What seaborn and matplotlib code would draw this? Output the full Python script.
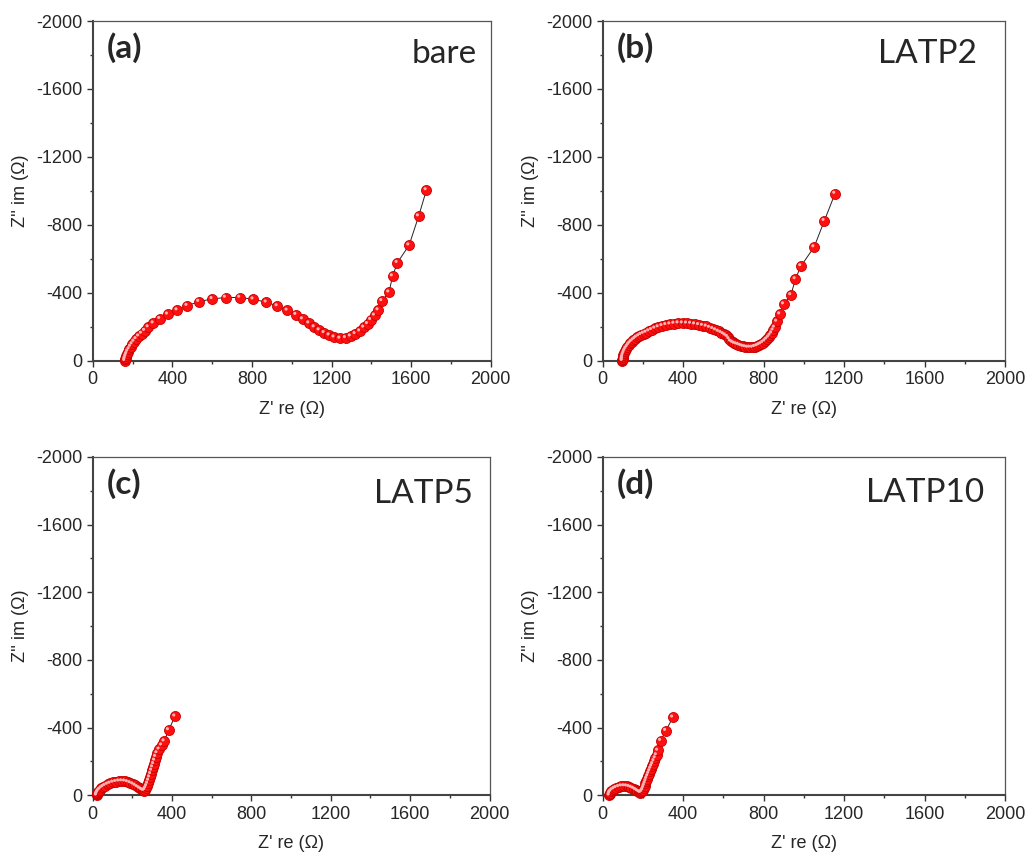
import numpy as np
import matplotlib
matplotlib.use("Agg")
import matplotlib.pyplot as plt
import matplotlib.transforms as mtransforms
import seaborn as sns
from matplotlib.ticker import MultipleLocator

# Nyquist data (Z' re, Z'' im in ohm)
bare_re = [162, 163, 165, 168, 172, 177, 184, 191, 199, 208, 219, 232, 246,
           262, 280, 305, 338, 377, 425, 475, 534, 601, 668, 740, 807, 873,
           928, 978, 1022, 1055, 1087, 1114, 1139, 1164, 1189, 1214, 1243,
           1271, 1296, 1320, 1343, 1363, 1382, 1398, 1417, 1435, 1454, 1489,
           1507, 1531, 1590, 1638, 1677]
bare_im = [0, -8, -16, -28, -40, -54, -68, -83, -98, -113, -128, -144, -160,
           -177, -198, -221, -247, -273, -298, -324, -348, -364, -372, -372,
           -362, -344, -322, -296, -271, -245, -221, -198, -180, -164, -150,
           -138, -131, -135, -144, -158, -174, -196, -217, -241, -267, -298,
           -352, -403, -498, -577, -680, -851, -1005]

latp2_re = [98, 98, 99, 100, 103, 107, 111, 117, 123, 129, 136, 144, 153, 161,
            169, 180, 191, 203, 216, 230, 244, 260, 277, 296, 315, 335, 355,
            376, 397, 418, 438, 458, 478, 497, 516, 532, 548, 562, 576, 589,
            601, 611, 621, 629, 637, 646, 654, 664, 675, 686, 697, 708, 720,
            732, 745, 756, 767, 777, 787, 797, 807, 816, 825, 833, 841, 848,
            855, 866, 881, 900, 936, 958, 986, 1051, 1102, 1155]
latp2_im = [0, -5, -12, -22, -35, -47, -59, -71, -82, -92, -102, -112, -121,
            -129, -137, -145, -153, -160, -166, -174, -182, -190, -198, -205,
            -211, -215, -219, -221, -221, -220, -219, -215, -211, -207, -202,
            -195, -188, -180, -172, -165, -157, -149, -141, -128, -114, -108,
            -102, -98, -94, -89, -84, -81, -78, -78, -78, -82, -86, -92, -98,
            -106, -115, -126, -137, -149, -162, -179, -196, -231, -274, -333,
            -387, -481, -558, -669, -824, -984]

latp5_re = [20, 21, 23, 26, 30, 36, 44, 53, 63, 75, 88, 102, 117, 132, 147,
            162, 176, 190, 203, 215, 226, 236, 245, 252, 259, 263, 268, 273,
            278, 283, 288, 293, 298, 303, 308, 313, 318, 325, 336, 348, 361,
            383, 415]
latp5_im = [0, -6, -12, -19, -26, -33, -42, -50, -57, -64, -70, -76, -80, -83,
            -84, -83, -79, -73, -66, -58, -49, -42, -35, -30, -28, -32, -42,
            -55, -70, -88, -107, -127, -147, -167, -186, -206, -228, -250,
            -272, -296, -320, -386, -467]

latp10_re = [33, 34, 37, 42, 49, 58, 68, 80, 93, 106, 119, 131, 143, 154, 164,
             173, 181, 187, 192, 196, 200, 204, 208, 212, 216, 220, 225, 230,
             235, 240, 245, 250, 256, 262, 268, 274, 289, 314, 349]
latp10_im = [0, -8, -16, -24, -32, -39, -45, -50, -54, -55, -54, -51, -46,
             -40, -33, -26, -20, -16, -18, -24, -32, -44, -57, -70, -84, -98,
             -113, -128, -143, -158, -172, -186, -203, -220, -238, -265, -323,
             -382, -461]

panel_tags = ["(a)", "(b)", "(c)", "(d)"]
sample_names = ["bare", "LATP2", "LATP5", "LATP10"]
series = [(bare_re, bare_im), (latp2_re, latp2_im),
          (latp5_re, latp5_im), (latp10_re, latp10_im)]

sns.set_style("ticks")
plt.rcParams["font.family"] = ["Liberation Sans", "DejaVu Sans"]
plt.rcParams["axes.unicode_minus"] = False

W, H = 1031, 857
fig = plt.figure(figsize=(W / 100, H / 100), dpi=100)

# axes boxes in pixels: left, top, right, bottom
boxes = [(92.7, 21, 490.7, 360.7), (602.7, 21, 1005, 360.7),
         (92.7, 457, 489.5, 795.3), (602.7, 457, 1005, 795.3)]
name_pos = [(0.966, 0.876), (0.930, 0.876), (0.958, 0.864), (0.948, 0.868)]

# small offset for the shiny spot on each ball marker
shine = mtransforms.ScaledTranslation(-1.3 / 100, 1.3 / 100, fig.dpi_scale_trans)

for (x, y), tag, name, (l, t, r, b), (nx, ny) in zip(
        series, panel_tags, sample_names, boxes, name_pos):
    ax = fig.add_axes([l / W, 1 - b / H, (r - l) / W, (b - t) / H])
    sns.lineplot(x=x, y=y, sort=False, ax=ax, color="#222222", lw=0.7,
                 estimator=None)
    sns.scatterplot(x=x, y=y, ax=ax, color="#ff1010", edgecolor="#c80000",
                    linewidth=0.6, s=52, zorder=3, clip_on=False)
    sns.scatterplot(x=x, y=y, ax=ax, color="#ffb4b4", edgecolor="none",
                    s=5, zorder=4, clip_on=False,
                    transform=ax.transData + shine)
    ax.set_xlim(0, 2000)
    ax.set_ylim(0, -2000)
    ax.xaxis.set_major_locator(MultipleLocator(400))
    ax.xaxis.set_minor_locator(MultipleLocator(200))
    ax.yaxis.set_major_locator(MultipleLocator(400))
    ax.yaxis.set_minor_locator(MultipleLocator(200))
    ax.tick_params(which="major", length=4.5, width=1, labelsize=13,
                   color="#333333", pad=3)
    ax.tick_params(which="minor", length=2.5, width=1, color="#333333")
    for side in ["left", "bottom"]:
        ax.spines[side].set_linewidth(1.5)
        ax.spines[side].set_color("#444444")
    for side in ["top", "right"]:
        ax.spines[side].set_linewidth(0.9)
        ax.spines[side].set_color("#555555")
    ax.set_xlabel("Z' re (\u03a9)", fontsize=13, labelpad=9)
    ax.set_ylabel("Z'' im (\u03a9)", fontsize=13, labelpad=5)
    ax.text(0.036, 0.922, tag, transform=ax.transAxes, fontsize=24,
            fontweight="bold", family=["Lato", "DejaVu Sans"], va="center")
    ax.text(nx, ny, name, transform=ax.transAxes, fontsize=24,
            family=["Lato", "DejaVu Sans"], ha="right", va="baseline")

fig.savefig("out.png", dpi=100)
